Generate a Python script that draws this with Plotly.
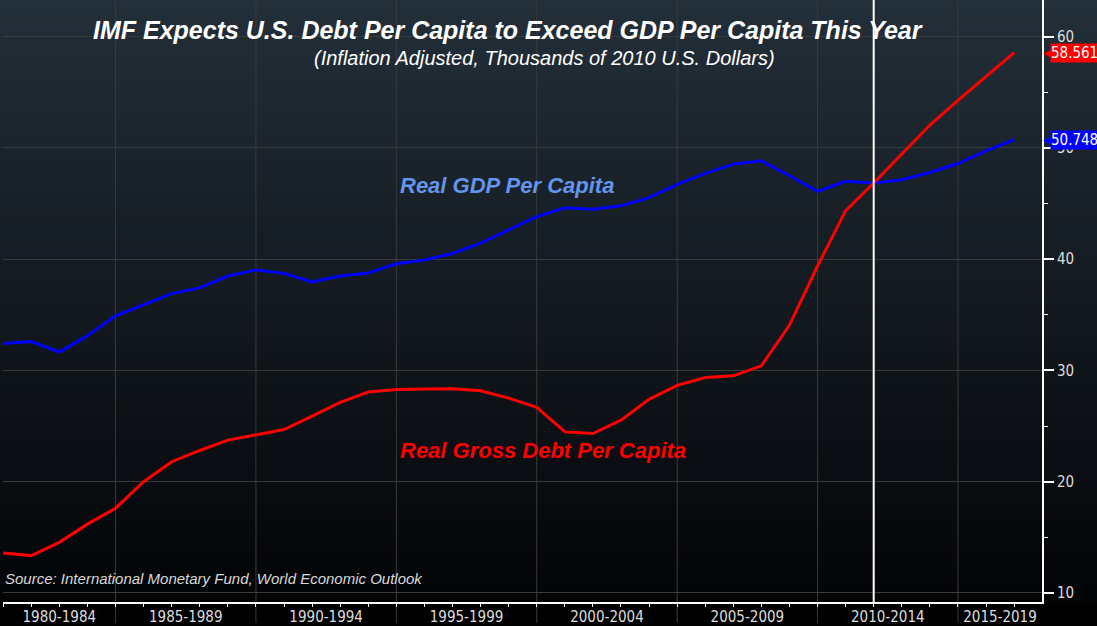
import plotly.graph_objects as go
import pandas as pd

# ---------------- data ----------------
years = list(range(1980, 2017))
gdp_per_capita = [32.42, 32.60, 31.66, 33.13, 34.92, 35.93, 36.91, 37.42, 38.49, 39.03,
                  38.73, 37.96, 38.50, 38.77, 39.60, 39.93, 40.52, 41.45, 42.64, 43.83,
                  44.63, 44.49, 44.81, 45.53, 46.73, 47.71, 48.55, 48.84, 47.50, 46.10,
                  47.00, 46.85, 47.14, 47.80, 48.60, 49.73, 50.748]
debt_per_capita = [13.60, 13.36, 14.55, 16.19, 17.62, 20.00, 21.80, 22.81, 23.74, 24.24,
                   24.69, 25.90, 27.14, 28.06, 28.30, 28.33, 28.36, 28.18, 27.52, 26.69,
                   24.48, 24.33, 25.53, 27.41, 28.66, 29.37, 29.52, 30.42, 34.08, 39.39,
                   44.37, 46.85, 49.44, 52.06, 54.27, 56.45, 58.561]
period_labels = ["1980-1984", "1985-1989", "1990-1994", "1995-1999",
                 "2000-2004", "2005-2009", "2010-2014", "2015-2019"]
period_start_years = [1980, 1985, 1990, 1995, 2000, 2005, 2010, 2015]
y_tick_values = [10, 20, 30, 40, 50, 60]
y_minor_values = [15, 25, 35, 45, 55]
marker_year = 2011

title_text = "IMF Expects U.S. Debt Per Capita to Exceed GDP Per Capita This Year"
subtitle_text = "(Inflation Adjusted, Thousands of 2010 U.S. Dollars)"
gdp_name = "Real GDP Per Capita"
debt_name = "Real Gross Debt Per Capita"
source_text = "Source: International Monetary Fund, World Economic Outlook"

# ---------------- layout geometry ----------------
W, H = 1097, 626
ML, MR, MT, MB = 3, 55, 0, 21
PW, PH = W - ML - MR, H - MT - MB
x_range = ["1980-12-28", "2017-12-28"]
y_range = [9.19, 63.3]

dates = [f"{y}-12-31" for y in years]

NARROW = "Liberation Sans Narrow, Arial Narrow, Liberation Sans, Arial, sans-serif"
AXFONT = "DejaVu Sans Condensed, Liberation Sans Narrow, DejaVu Sans, sans-serif"
GRID = "#3a3a3a"

fig = go.Figure()
fig.add_trace(go.Scatter(x=dates, y=gdp_per_capita, mode="lines", name=gdp_name,
                         line=dict(color="#0000ff", width=3), showlegend=False))
fig.add_trace(go.Scatter(x=dates, y=debt_per_capita, mode="lines", name=debt_name,
                         line=dict(color="#ff0000", width=3), showlegend=False))

shapes = []
# background gradient (navy at top fading to black)
top_c, bot_c = (35, 47, 57), (3, 4, 6)
N = 80
for i in range(N):
    t = (i + 0.5) / N
    c = tuple(round(top_c[k] + (bot_c[k] - top_c[k]) * t) for k in range(3))
    y1 = 1 - i / N
    y0 = 1 - (i + 1) / N - 0.002
    shapes.append(dict(type="rect", xref="paper", yref="paper",
                       x0=-ML / PW, x1=(W - ML) / PW, y0=y0, y1=y1,
                       fillcolor=f"rgb{c}", line=dict(width=0), layer="below"))

# vertical separators at period boundaries (extend through the label strip)
xr0, xr1 = pd.Timestamp(x_range[0]), pd.Timestamp(x_range[1])
for s in period_start_years[1:]:
    b = f"{s - 1}-12-31"
    shapes.append(dict(type="line", xref="x", yref="paper", x0=b, x1=b,
                       y0=-MB / PH, y1=1, line=dict(color=GRID, width=1), layer="below"))

# marker line for the crossing year
shapes.append(dict(type="line", xref="x", yref="paper",
                   x0=f"{marker_year}-12-31", x1=f"{marker_year}-12-31",
                   y0=0, y1=1, line=dict(color="white", width=2), layer="above"))

# label positions: centre of visible part of each period
label_pos = []
for s in period_start_years:
    a = max(pd.Timestamp(f"{s - 1}-12-31"), xr0)
    b = min(pd.Timestamp(f"{s + 4}-12-31"), xr1)
    label_pos.append(a + (b - a) / 2)

annotations = [
    dict(text=title_text, xref="paper", yref="paper", x=(508 - ML) / PW, y=1 - 30 / PH,
         xanchor="center", yanchor="middle", showarrow=False,
         font=dict(family=NARROW, size=25, color="white", weight="bold", style="italic")),
    dict(text=subtitle_text, xref="paper", yref="paper", x=(544 - ML) / PW, y=1 - 58 / PH,
         xanchor="center", yanchor="middle", showarrow=False,
         font=dict(family=NARROW, size=20, color="white", style="italic")),
    dict(text=gdp_name, xref="paper", yref="paper", x=(398 - ML) / PW, y=1 - 186 / PH,
         xanchor="left", yanchor="middle", showarrow=False,
         font=dict(family=NARROW, size=22, color="#6495ed", weight="bold", style="italic")),
    dict(text=debt_name, xref="paper", yref="paper", x=(398 - ML) / PW, y=1 - 453 / PH,
         xanchor="left", yanchor="middle", showarrow=False,
         font=dict(family=NARROW, size=22, color="#ff0000", weight="bold", style="italic")),
    dict(text=source_text, xref="paper", yref="paper", x=0, y=1 - 581 / PH,
         xanchor="left", yanchor="middle", showarrow=False,
         font=dict(family=NARROW, size=15, color="#d8d8d8", style="italic")),
]

# last-value tags on the right axis
for vals, col in [(debt_per_capita, "#ff0000"), (gdp_per_capita, "#0000ff")]:
    v = vals[-1]
    annotations.append(dict(text="\u25C0", xref="paper", yref="y", x=1, y=v,
                            xanchor="left", yanchor="middle", xshift=-1, showarrow=False,
                            font=dict(family="DejaVu Sans", size=13, color=col)))
    annotations.append(dict(text=f"{v:.3f}", xref="paper", yref="y", x=1, y=v,
                            xanchor="left", yanchor="middle", xshift=8, showarrow=False,
                            bgcolor=col, borderpad=0,
                            font=dict(family=AXFONT, size=15, color="white")))

fig.update_layout(
    width=W, height=H,
    margin=dict(l=ML, r=MR, t=MT, b=MB, pad=0),
    paper_bgcolor="#000000", plot_bgcolor="rgba(0,0,0,0)",
    shapes=shapes, annotations=annotations, showlegend=False,
    xaxis=dict(type="date", range=x_range, showgrid=False, zeroline=False,
               showline=True, linecolor="white", linewidth=2,
               tickmode="array", tickvals=label_pos, ticktext=period_labels,
               ticks="", tickfont=dict(family=AXFONT, size=15, color="#dddddd"),
               minor=dict(tickmode="array", tickvals=dates, ticks="outside", ticklen=3,
                          tickwidth=1, tickcolor="white", showgrid=False)),
    yaxis=dict(side="right", range=y_range, showgrid=True, gridcolor=GRID, gridwidth=1,
               zeroline=False, showline=True, linecolor="white", linewidth=2,
               tickmode="array", tickvals=y_tick_values, ticks="outside", ticklen=10,
               tickwidth=2, tickcolor="white",
               tickfont=dict(family=AXFONT, size=15, color="#dddddd"),
               minor=dict(tickmode="array", tickvals=y_minor_values, ticks="outside",
                          ticklen=4, tickwidth=1, tickcolor="white", showgrid=False)),
)

fig.write_html("out.html", config={"displayModeBar": False},
               post_script="document.body.style.margin='0';document.body.style.overflow='hidden';")
